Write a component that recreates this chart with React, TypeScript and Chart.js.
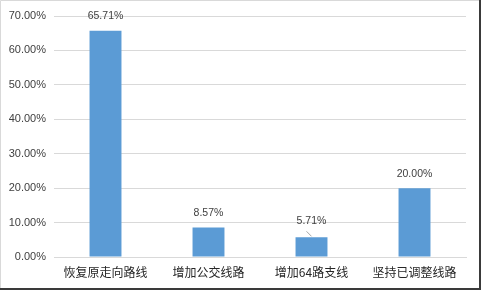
import React, { useEffect, useRef } from "react";
import { Chart, registerables } from "chart.js";

Chart.register(...registerables);

const categories = ["恢复原走向路线", "增加公交线路", "增加64路支线", "坚持已调整线路"];
const values = [65.71, 8.57, 5.71, 20.0];
const yMax = 70;
const yStep = 10;

const frame = {
  id: "frame",
  beforeDraw(chart: any) {
    const { ctx, width, height } = chart;
    ctx.save();
    ctx.fillStyle = "#ffffff";
    ctx.fillRect(0, 0, width, height);
    ctx.strokeStyle = "#d9d9d9";
    ctx.lineWidth = 1;
    ctx.beginPath();
    ctx.moveTo(0.5, height - 2);
    ctx.lineTo(0.5, 0.5);
    ctx.lineTo(width - 2, 0.5);
    ctx.stroke();
    ctx.strokeStyle = "#3a3a3a";
    ctx.lineWidth = 2;
    ctx.beginPath();
    ctx.moveTo(480, 0);
    ctx.lineTo(480, 289);
    ctx.lineTo(0, 289 - 0);
    ctx.stroke();
    ctx.restore();
  },
};

const labels = {
  id: "dataLabels",
  afterDatasetsDraw(chart: any) {
    const { ctx } = chart;
    const meta = chart.getDatasetMeta(0);
    ctx.save();
    ctx.font = "10.5px 'Liberation Sans', Arial, sans-serif";
    ctx.fillStyle = "#404040";
    ctx.textAlign = "center";
    ctx.textBaseline = "middle";
    meta.data.forEach((bar: any, i: number) => {
      const v = values[i];
      const txt = v.toFixed(2) + "%";
      let dy = 14.5;
      if (i === 2) {
        dy = 16;
        ctx.strokeStyle = "#a6a6a6";
        ctx.lineWidth = 1;
        ctx.beginPath();
        ctx.moveTo(bar.x - 5, bar.y - 6);
        ctx.lineTo(bar.x, bar.y - 1);
        ctx.stroke();
      }
      ctx.fillText(txt, bar.x, bar.y - dy);
    });
    ctx.restore();
  },
};

export default function App() {
  const ref = useRef<HTMLCanvasElement>(null);
  useEffect(() => {
    if (!ref.current) return;
    const chart = new Chart(ref.current, {
      type: "bar",
      data: {
        labels: categories,
        datasets: [
          {
            data: values,
            backgroundColor: "#5b9bd5",
            borderWidth: 0,
            barPercentage: 0.31,
            categoryPercentage: 1,
          },
        ],
      },
      options: {
        animation: false,
        responsive: false,
        maintainAspectRatio: false,
        devicePixelRatio: 1,
        layout: { padding: { left: 0, top: 16, right: 16, bottom: 0 } },
        plugins: { legend: { display: false }, tooltip: { enabled: false } },
        scales: {
          x: {
            grid: { display: false, drawTicks: false },
            border: { display: true, color: "#d9d9d9" },
            ticks: {
              color: "#262626",
              padding: 8,
              maxRotation: 0,
              autoSkip: false,
              font: { family: "'Noto Sans CJK SC', sans-serif", size: 12 },
            },
            afterFit(scale: any) {
              scale.height = 33;
            },
          },
          y: {
            min: 0,
            max: yMax,
            grid: { color: "#d9d9d9", drawTicks: false },
            border: { display: false },
            ticks: {
              stepSize: yStep,
              padding: 8,
              color: "#404040",
              font: { family: "'Liberation Sans', Arial, sans-serif", size: 11 },
              callback: (v: any) => Number(v).toFixed(2) + "%",
            },
            afterFit(scale: any) {
              scale.width = 54;
            },
          },
        },
      },
      plugins: [frame, labels],
    });
    return () => chart.destroy();
  }, []);
  return (
    <div style={{ position: "absolute", left: 0, top: 0, width: 482, height: 290 }}>
      <canvas ref={ref} width={482} height={290} style={{ width: 482, height: 290, display: "block" }} />
    </div>
  );
}
